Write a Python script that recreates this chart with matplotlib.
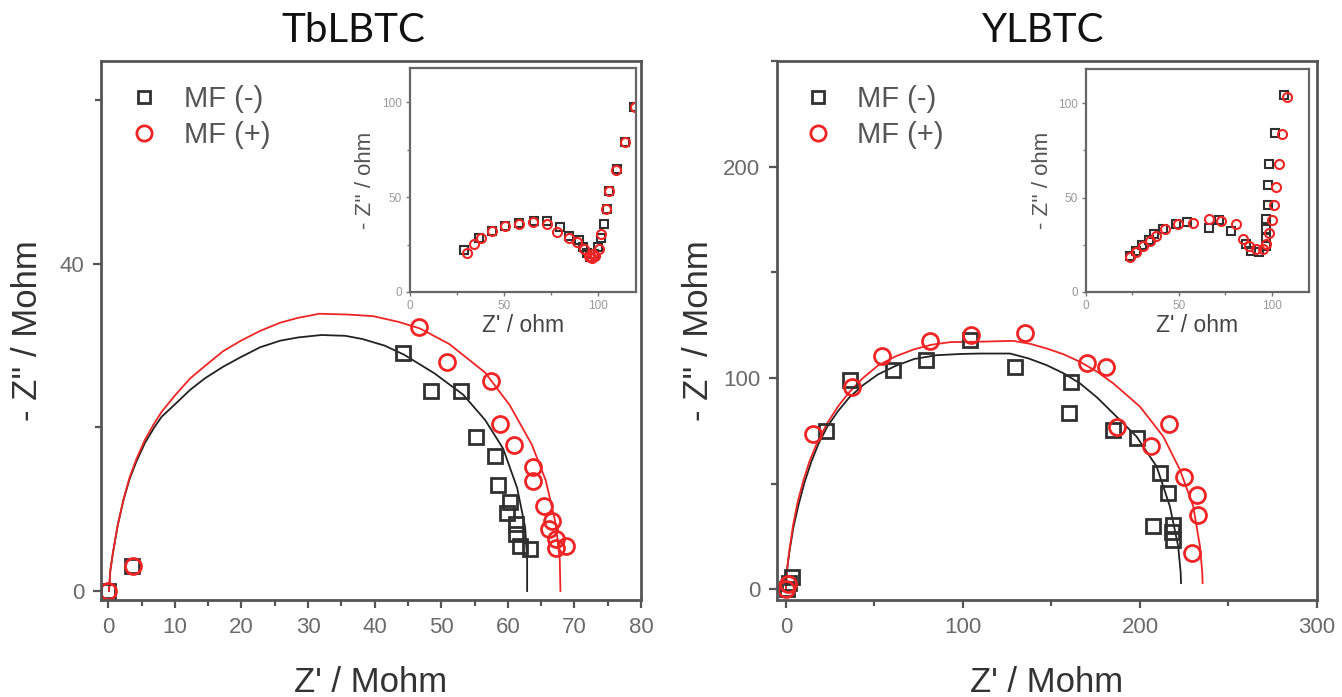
import matplotlib
matplotlib.use('Agg')
import matplotlib.pyplot as plt
from matplotlib.ticker import MultipleLocator
from matplotlib.lines import Line2D

plt.rcParams['font.family'] = ['Liberation Sans', 'DejaVu Sans']

# ---------------- data: TbLBTC main ----------------
tb_neg_x = [0.0, 3.5, 44.3, 48.5, 53.0, 55.2, 58.0, 58.5, 60.3, 59.9, 61.2, 61.3, 61.9, 63.3]
tb_neg_y = [0.0, 3.0, 29.1, 24.4, 24.5, 18.8, 16.5, 13.0, 10.9, 9.5, 8.2, 7.0, 5.5, 5.1]
tb_pos_x = [0.0, 3.7, 46.6, 50.8, 57.4, 58.8, 61.0, 63.8, 63.8, 65.5, 66.7, 66.2, 67.2, 68.7, 67.2]
tb_pos_y = [0.0, 3.0, 32.3, 28.0, 25.7, 20.4, 17.9, 15.1, 13.4, 10.4, 8.5, 7.6, 6.3, 5.5, 5.3]

tb_fit_neg_x = [0.1, 0.3, 0.7, 1.4, 2.3, 3.2, 4.2, 5.5, 6.9, 8.0, 10.1, 12.3, 14.5, 17.2, 19.9, 22.8, 25.8, 28.5, 32.0, 35.6, 38.2, 41.5, 44.4, 49.0, 53.3, 56.6, 59.3, 61.4, 62.6, 62.9, 62.9]
tb_fit_neg_y = [0.0, 2.5, 4.7, 8.0, 11.2, 13.7, 15.8, 18.1, 20.0, 21.3, 22.9, 24.6, 26.0, 27.4, 28.6, 29.8, 30.6, 31.0, 31.3, 31.2, 30.8, 30.0, 28.9, 26.6, 24.0, 20.9, 17.4, 12.6, 7.8, 3.8, 0.0]
tb_fit_pos_x = [0.1, 0.3, 0.7, 1.4, 2.3, 3.2, 4.2, 5.5, 6.9, 8.0, 10.1, 12.3, 14.5, 17.2, 19.9, 22.8, 25.8, 28.5, 31.7, 36.0, 39.8, 43.6, 46.8, 51.2, 56.6, 60.3, 63.6, 65.7, 67.2, 67.8, 67.9]
tb_fit_pos_y = [0.0, 2.5, 4.7, 8.0, 11.3, 13.9, 16.1, 18.5, 20.5, 21.9, 24.0, 26.0, 27.5, 29.3, 30.6, 31.8, 32.8, 33.4, 33.9, 33.8, 33.6, 32.9, 32.1, 30.2, 26.7, 22.7, 17.9, 13.5, 8.2, 3.8, 0.0]

# ---------------- data: YLBTC main ----------------
y_neg_x = [0.5, 2.0, 3.5, 22.4, 36.1, 60.6, 79.0, 104.1, 129.4, 160.8, 160.1, 184.9, 198.1, 211.3, 216.0, 207.2, 218.5, 218.5, 218.0]
y_neg_y = [0.0, 3.0, 6.0, 75.1, 99.2, 103.7, 108.5, 118.1, 105.3, 98.3, 83.3, 75.5, 71.6, 55.0, 45.6, 30.2, 30.7, 23.6, 27.0]
y_pos_x = [0.0, 1.0, 15.3, 37.3, 54.1, 81.6, 104.7, 135.0, 170.2, 180.8, 187.2, 206.0, 216.6, 224.9, 232.0, 233.0, 229.2]
y_pos_y = [0.0, 2.5, 73.4, 95.8, 110.2, 117.5, 120.3, 121.4, 107.2, 105.3, 76.7, 67.9, 78.3, 53.4, 44.8, 35.4, 17.3]

y_fit_neg_x = [0.0, 0.5, 2.0, 4.3, 7.1, 10.5, 14.3, 18.6, 23.5, 29.4, 35.7, 43.5, 52.0, 61.8, 72.4, 85.0, 99.0, 109.6, 126.6, 137.0, 147.3, 157.0, 166.1, 175.8, 184.9, 198.1, 209.4, 216.9, 221.6, 223.0, 223.2]
y_fit_neg_y = [0.0, 8.0, 17.8, 29.5, 39.8, 50.5, 60.2, 69.2, 77.1, 84.3, 90.7, 96.6, 101.7, 105.7, 109.0, 110.8, 111.4, 111.6, 111.6, 109.3, 106.1, 102.2, 97.5, 90.8, 83.3, 72.3, 58.2, 39.3, 20.4, 8.0, 3.0]
y_fit_pos_x = [0.0, 0.5, 2.0, 4.1, 6.7, 10.0, 13.3, 18.2, 23.5, 29.4, 35.7, 43.5, 52.0, 61.8, 72.4, 82.5, 92.9, 109.6, 128.4, 138.0, 147.3, 157.0, 166.1, 175.8, 184.9, 200.0, 213.2, 222.6, 230.1, 233.9, 235.2, 235.4]
y_fit_pos_y = [0.0, 8.5, 18.6, 30.5, 41.5, 51.8, 60.5, 70.5, 78.8, 86.5, 93.2, 100.0, 105.9, 110.2, 113.6, 115.8, 117.0, 117.2, 117.6, 116.2, 114.0, 111.2, 107.7, 103.0, 97.5, 86.5, 72.3, 56.6, 39.3, 20.4, 8.0, 3.0]

# ---------------- data: insets (ohm) ----------------
tb_in_neg_x = [28.7, 36.7, 43.4, 50.3, 57.8, 65.8, 72.8, 79.5, 84.3, 89.6, 91.9, 94.0, 95.8, 97.5, 99.6, 101.4, 102.8, 104.6, 105.5, 109.9, 114.3, 118.7]
tb_in_neg_y = [22.0, 28.7, 32.3, 34.9, 36.2, 37.2, 37.2, 34.0, 29.6, 27.3, 23.5, 20.3, 18.2, 19.9, 23.5, 28.7, 35.8, 43.7, 53.4, 64.9, 79.0, 97.5]
tb_in_pos_x = [30.2, 34.0, 37.6, 43.7, 50.3, 57.8, 65.4, 72.8, 78.1, 84.3, 88.7, 92.2, 94.9, 95.5, 96.6, 97.0, 98.4, 100.2, 101.4, 104.1, 105.5, 109.5, 114.3, 119.5]
tb_in_pos_y = [20.8, 25.2, 28.7, 32.3, 34.9, 35.8, 37.0, 35.8, 31.4, 28.7, 26.1, 22.6, 19.0, 18.5, 17.8, 20.0, 19.0, 22.6, 30.5, 43.7, 53.1, 64.4, 79.0, 97.5]

y_in_neg_x = [23.6, 26.8, 30.4, 33.9, 36.4, 41.4, 48.6, 54.3, 66.4, 71.4, 78.0, 86.1, 88.8, 93.2, 96.8, 97.1, 97.1, 97.1, 97.7, 98.2, 98.6, 101.8, 106.6]
y_in_neg_y = [19.2, 21.8, 25.0, 27.6, 30.5, 33.5, 35.8, 37.0, 34.0, 38.0, 32.3, 25.3, 21.8, 21.3, 24.4, 28.8, 33.2, 38.4, 46.2, 56.7, 67.7, 84.1, 104.4]
y_in_pos_x = [23.6, 26.8, 30.7, 34.3, 37.5, 42.3, 49.5, 57.5, 66.1, 72.7, 80.7, 84.3, 87.9, 91.4, 95.0, 97.1, 98.6, 100.0, 101.3, 102.5, 103.6, 105.7, 108.4]
y_in_pos_y = [18.3, 21.3, 24.4, 27.1, 29.7, 33.5, 35.8, 36.6, 38.4, 37.5, 35.8, 27.9, 24.4, 22.7, 22.7, 25.3, 31.4, 38.0, 46.2, 55.8, 67.7, 83.4, 103.3]

titles = ['TbLBTC', 'YLBTC']
legend_labels = ['MF (-)', 'MF (+)']
xlabel_main = "Z' / Mohm"
ylabel_main = "- Z'' / Mohm"
xlabel_in = "Z' / ohm"
ylabel_in = "- Z'' / ohm"

BLACK = '#303030'
RED = '#f02424'
SPINE = '#555555'
TICKLBL = '#6a6a6a'
LABEL = '#333333'

W, H = 1342, 697
fig = plt.figure(figsize=(W / 100, H / 100), dpi=100)


def frac(x0, y0, x1, y1):
    return [x0 / W, 1 - y1 / H, (x1 - x0) / W, (y1 - y0) / H]


def style_main(ax, xlim, ylim, xmaj, xmin, ymaj, ymin):
    ax.set_xlim(*xlim)
    ax.set_ylim(*ylim)
    ax.xaxis.set_major_locator(MultipleLocator(xmaj))
    ax.xaxis.set_minor_locator(MultipleLocator(xmin))
    ax.yaxis.set_major_locator(MultipleLocator(ymaj))
    ax.yaxis.set_minor_locator(MultipleLocator(ymin))
    for s in ax.spines.values():
        s.set_color(SPINE)
        s.set_linewidth(2.0)
    ax.tick_params(which='major', direction='out', length=6, width=1.6,
                   color=SPINE, labelsize=16, labelcolor=TICKLBL, pad=6)
    ax.tick_params(which='minor', direction='out', length=4.5, width=1.6, color=SPINE)


def style_inset(ax):
    ax.set_xlim(0, 120)
    ax.set_ylim(0, 118)
    ax.xaxis.set_major_locator(MultipleLocator(50))
    ax.xaxis.set_minor_locator(MultipleLocator(25))
    ax.yaxis.set_major_locator(MultipleLocator(50))
    ax.yaxis.set_minor_locator(MultipleLocator(25))
    for s in ax.spines.values():
        s.set_color('#666666')
        s.set_linewidth(1.6)
    ax.tick_params(which='major', direction='out', length=3, width=1.0,
                   color='#777777', labelsize=8.5, labelcolor='#999999', pad=3)
    ax.tick_params(which='minor', direction='out', length=2.5, width=1.0, color='#777777')
    ax.set_xlabel(xlabel_in, fontsize=16.5, color='#444444')
    ax.xaxis.set_label_coords(0.5, -0.1)
    ax.set_ylabel(ylabel_in, fontsize=16, color='#555555')
    ax.yaxis.set_label_coords(-0.15, 0.5)


msq = dict(marker='s', ms=10, mfc='none', mec=BLACK, mew=2.0, ls='none')
mci = dict(marker='o', ms=11.5, mfc='none', mec=RED, mew=2.0, ls='none')
msq_in = dict(marker='s', ms=5.5, mfc='none', mec=BLACK, mew=1.5, ls='none')
mci_in = dict(marker='o', ms=6.5, mfc='none', mec=RED, mew=1.5, ls='none')


def add_legend(ax, x0):
    handles = [Line2D([], [], marker='s', ms=9, mfc='none', mec=BLACK, mew=2.0, ls='none'),
               Line2D([], [], marker='o', ms=11, mfc='none', mec=RED, mew=2.0, ls='none')]
    ax.legend(handles, legend_labels, loc='upper left', bbox_to_anchor=(x0, 0.955),
              frameon=False, fontsize=21, labelcolor='#555555', handlelength=1.0,
              handletextpad=0.85, labelspacing=0.28, borderaxespad=0, borderpad=0)


# ---------------- left main ----------------
axL = fig.add_axes(frac(101, 61, 641, 600))
style_main(axL, (-1.1, 80), (-1.1, 64.8), 10, 5, 40, 20)
axL.plot(tb_fit_neg_x, tb_fit_neg_y, color='#222222', lw=1.3)
axL.plot(tb_fit_pos_x, tb_fit_pos_y, color=RED, lw=1.3)
axL.plot(tb_neg_x, tb_neg_y, **msq)
axL.plot(tb_pos_x, tb_pos_y, **mci)
axL.set_xlabel(xlabel_main, fontsize=25, color=LABEL)
axL.xaxis.set_label_coords(0.5, -0.122)
axL.set_ylabel(ylabel_main, fontsize=25, color=LABEL)
axL.yaxis.set_label_coords(-0.105, 0.5)
add_legend(axL, 0.053)

# ---------------- right main ----------------
axR = fig.add_axes(frac(777, 61, 1317, 600))
style_main(axR, (-5, 300), (-5, 250), 100, 50, 100, 50)
axR.plot(y_fit_neg_x, y_fit_neg_y, color='#222222', lw=1.3)
axR.plot(y_fit_pos_x, y_fit_pos_y, color=RED, lw=1.3)
axR.plot(y_neg_x, y_neg_y, **msq)
axR.plot(y_pos_x, y_pos_y, **mci)
axR.set_xlabel(xlabel_main, fontsize=25, color=LABEL)
axR.xaxis.set_label_coords(0.5, -0.122)
axR.set_ylabel(ylabel_main, fontsize=25, color=LABEL)
axR.yaxis.set_label_coords(-0.115, 0.5)
add_legend(axR, 0.049)

# ---------------- insets ----------------
inL = fig.add_axes(frac(410, 68, 636, 292))
style_inset(inL)
inL.plot(tb_in_neg_x, tb_in_neg_y, **msq_in)
inL.plot(tb_in_pos_x, tb_in_pos_y, **mci_in)

inR = fig.add_axes(frac(1086, 69, 1309, 292))
style_inset(inR)
inR.plot(y_in_neg_x, y_in_neg_y, **msq_in)
inR.plot(y_in_pos_x, y_in_pos_y, **mci_in)

# ---------------- titles ----------------
fig.text(353 / W, 1 - 30 / H, titles[0], fontsize=29, family=['Lato', 'DejaVu Sans'],
         ha='center', va='center', color='#111111')
fig.text(1043 / W, 1 - 30 / H, titles[1], fontsize=29, family=['Lato', 'DejaVu Sans'],
         ha='center', va='center', color='#111111')

fig.savefig('out.png', dpi=100)
